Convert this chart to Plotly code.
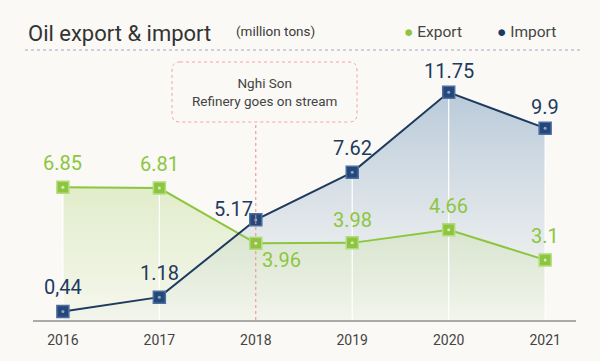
import plotly.graph_objects as go

years = ["2016", "2017", "2018", "2019", "2020", "2021"]
export_vals = [6.85, 6.81, 3.96, 3.98, 4.66, 3.1]
import_vals = [0.44, 1.18, 5.17, 7.62, 11.75, 9.9]
export_labels = ["6.85", "6.81", "3.96", "3.98", "4.66", "3.1"]
import_labels = ["0,44", "1.18", "5.17", "7.62", "11.75", "9.9"]

xs = list(range(len(years)))

BG = "#faf9f5"
GREEN = "#8cc63f"
NAVY = "#1f3a5f"
TXT = "#444444"
COND = "Roboto, sans-serif"

L, R, T, B, W, H = 33, 24, 70, 41, 600, 361
PW, PH = W - L - R, H - T - B


def px(xp):
    return (xp - L) / PW


def py(yp):
    return (H - B - yp) / PH


fig = go.Figure()

# import area fill
fig.add_trace(go.Scatter(
    x=xs, y=import_vals, mode="none", fill="tozeroy",
    fillgradient=dict(type="vertical", colorscale=[[0, "rgba(150,175,200,0.02)"], [1, "rgba(120,155,190,0.50)"]]),
    hoverinfo="skip", showlegend=False))
# export area fill
fig.add_trace(go.Scatter(
    x=xs, y=export_vals, mode="none", fill="tozeroy",
    fillgradient=dict(type="vertical", colorscale=[[0, "rgba(200,225,160,0.10)"], [1, "rgba(195,222,150,0.45)"]]),
    hoverinfo="skip", showlegend=False))

# white vertical guide lines (except 2018)
gx, gy = [], []
for i, (e, m) in enumerate(zip(export_vals, import_vals)):
    if years[i] == "2018":
        continue
    gx += [i, i, None]
    gy += [max(e, m), 0, None]
fig.add_trace(go.Scatter(x=gx, y=gy, mode="lines", line=dict(color="white", width=1.2),
                         hoverinfo="skip", showlegend=False))

# red dotted line at 2018
box_bottom = 122
i18 = years.index("2018")
fig.add_shape(type="line", xref="x", yref="paper", x0=i18, x1=i18, y0=0, y1=py(box_bottom),
              line=dict(color="#f08a8a", width=1, dash="dot"))

# series lines + markers
fig.add_trace(go.Scatter(
    x=xs, y=export_vals, mode="lines+markers", name="Export",
    line=dict(color=GREEN, width=2),
    marker=dict(symbol="square", size=12, color=GREEN, line=dict(color="#b5db80", width=1.5)),
    cliponaxis=False, showlegend=False))
fig.add_trace(go.Scatter(
    x=xs, y=import_vals, mode="lines+markers", name="Import",
    line=dict(color=NAVY, width=2),
    marker=dict(symbol="square", size=12, color="#24487a", line=dict(color="#4d6e9e", width=1.5)),
    cliponaxis=False, showlegend=False))
# small centre dots on markers
fig.add_trace(go.Scatter(x=xs, y=export_vals, mode="markers",
                         marker=dict(symbol="circle", size=3, color="#d8ecbd"),
                         cliponaxis=False, hoverinfo="skip", showlegend=False))
fig.add_trace(go.Scatter(x=xs, y=import_vals, mode="markers",
                         marker=dict(symbol="circle", size=3, color="#8ea6c6"),
                         cliponaxis=False, hoverinfo="skip", showlegend=False))

# data labels (offsets in pixels)
exp_off = [(0, 24), (0, 24), (26, -17), (0, 23), (0, 24), (0, 24)]
imp_off = [(0, 24), (0, 24), (-22, 11), (0, 24), (0, 21), (0, 21)]
for i in xs:
    fig.add_annotation(x=i, y=export_vals[i], text=export_labels[i], showarrow=False,
                       xshift=exp_off[i][0], yshift=exp_off[i][1],
                       font=dict(family=COND, size=20, color=GREEN))
    fig.add_annotation(x=i, y=import_vals[i], text=import_labels[i], showarrow=False,
                       xshift=imp_off[i][0], yshift=imp_off[i][1],
                       font=dict(family=COND, size=20, color=NAVY))

# annotation box (rounded, dotted red border)
bx0, bx1, by0, by1, rr = 172, 357, 62, 122, 8


def rounded_path(x0, y0, x1, y1, r):
    pts = [
        f"M {px(x0 + r)} {py(y0)}",
        f"L {px(x1 - r)} {py(y0)}",
        f"Q {px(x1)} {py(y0)} {px(x1)} {py(y0 + r)}",
        f"L {px(x1)} {py(y1 - r)}",
        f"Q {px(x1)} {py(y1)} {px(x1 - r)} {py(y1)}",
        f"L {px(x0 + r)} {py(y1)}",
        f"Q {px(x0)} {py(y1)} {px(x0)} {py(y1 - r)}",
        f"L {px(x0)} {py(y0 + r)}",
        f"Q {px(x0)} {py(y0)} {px(x0 + r)} {py(y0)}",
        "Z",
    ]
    return " ".join(pts)


fig.add_shape(type="path", xref="paper", yref="paper", path=rounded_path(bx0, by0, bx1, by1, rr),
              line=dict(color="#f4a3a3", width=1, dash="dot"), fillcolor=BG)
fig.add_annotation(xref="paper", yref="paper", x=px((bx0 + bx1) / 2), y=py((by0 + by1) / 2),
                   xanchor="center", yanchor="middle",
                   text="Nghi Son<br>Refinery goes on stream", showarrow=False,
                   font=dict(family="Roboto, sans-serif", size=13.5, color=TXT), align="center")

# header
fig.add_annotation(xref="paper", yref="paper", x=px(26), y=py(33), xanchor="left", yanchor="middle",
                   text="Oil export & import", showarrow=False,
                   font=dict(family=COND, size=22, color="#333333"))
fig.add_annotation(xref="paper", yref="paper", x=px(234), y=py(31), xanchor="left", yanchor="middle",
                   text="(million tons)", showarrow=False,
                   font=dict(family=COND, size=13.5, color="#3a3a3a"))
fig.add_annotation(xref="paper", yref="paper", x=px(402), y=py(32), xanchor="left", yanchor="middle",
                   text=f"<span style='color:{GREEN}'>●</span> Export", showarrow=False,
                   font=dict(family="Roboto, sans-serif", size=15.5, color=TXT))
fig.add_annotation(xref="paper", yref="paper", x=px(495), y=py(32), xanchor="left", yanchor="middle",
                   text=f"<span style='color:{NAVY}'>●</span> Import", showarrow=False,
                   font=dict(family="Roboto, sans-serif", size=15.5, color=TXT))
fig.add_shape(type="line", xref="paper", yref="paper", x0=px(25), x1=px(583), y0=py(50), y1=py(50),
              line=dict(color="#a9a3c8", width=1, dash="dot"))

fig.update_layout(
    width=W, height=H,
    margin=dict(l=L, r=R, t=T, b=B),
    paper_bgcolor=BG, plot_bgcolor=BG,
    showlegend=False,
    xaxis=dict(range=[-0.31, 5.32], tickvals=xs, ticktext=years, showgrid=False, zeroline=False,
               showline=True, linecolor="#aaaaaa", linewidth=2, ticks="", ticklabelstandoff=6,
               tickfont=dict(family=COND, size=14, color=TXT), fixedrange=True),
    yaxis=dict(range=[0, 12.9], visible=False, showgrid=False, zeroline=False, fixedrange=True),
)

fig.write_html("out.html", config={"displayModeBar": False},
               post_script="document.body.style.margin='0';document.body.style.background='%s';" % BG)
